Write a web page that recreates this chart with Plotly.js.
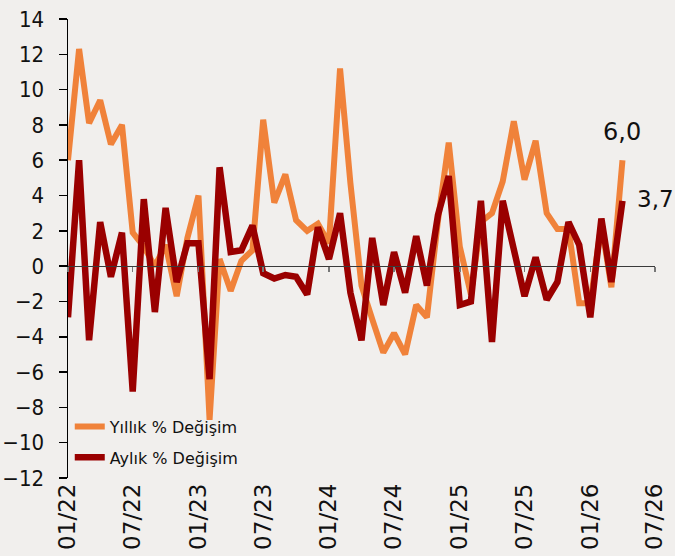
<!DOCTYPE html>
<html>
<head>
<meta charset="utf-8">
<script src="https://cdn.plot.ly/plotly-3.0.1.min.js"></script>
<style>html,body{margin:0;padding:0;background:#f1efed;}</style>
</head>
<body>
<div id="chart" style="width:675px;height:556px;"></div>
<script>
// Monthly series starting 01/2022
const startYear = 2022, startMonth = 1;
const yillik = [6.0, 12.3, 8.1, 9.4, 6.9, 8.0, 1.9, 1.1, 0.0, 1.2, -1.7, 1.6,
  4.0, -8.7, 0.4, -1.4, 0.3, 0.9, 8.3, 3.6, 5.2, 2.6, 2.0, 2.4,
  1.3, 11.2, 4.7, -1.1, -3.0, -4.9, -3.8, -5.0, -2.2, -2.9, 2.6, 7.0,
  1.1, -1.6, 2.5, 3.0, 4.8, 8.2, 4.9, 7.1, 3.0, 2.1, 2.1, -2.1,
  -2.1, 2.4, -1.2, 6.0];
const aylik = [-2.9, 6.0, -4.2, 2.5, -0.6, 1.9, -7.1, 3.8, -2.6, 3.3, -0.9, 1.3,
  1.3, -6.4, 5.6, 0.8, 0.9, 2.3, -0.4, -0.7, -0.5, -0.6, -1.6, 2.2,
  0.4, 3.0, -1.5, -4.2, 1.6, -2.2, 0.8, -1.5, 1.7, -1.1, 2.9, 5.1,
  -2.2, -2.0, 3.7, -4.3, 3.7, 0.9, -1.7, 0.5, -1.9, -0.9, 2.5, 1.2,
  -2.9, 2.7, -0.9, 3.7];
const tickVals = ['2022-01-01','2022-07-01','2023-01-01','2023-07-01','2024-01-01',
  '2024-07-01','2025-01-01','2025-07-01','2026-01-01','2026-07-01'];
const tickText = ['01/22','07/22','01/23','07/23','01/24','07/24','01/25','07/25','01/26','07/26'];
const seriesNames = ['Yıllık % Değişim', 'Aylık % Değişim'];

const dates = yillik.map((_, i) => {
  const m0 = startMonth - 1 + i;
  const y = startYear + Math.floor(m0 / 12);
  const m = (m0 % 12) + 1;
  return y + '-' + String(m).padStart(2, '0') + '-01';
});

const orange = '#f0823a';
const darkred = '#9a0000';
const xRange = ['2022-01-01', '2026-07-01'];
const yMin = -12, yMax = 14;

const traces = [
  {x: dates, y: yillik, type: 'scatter', mode: 'lines', name: seriesNames[0],
   legendgroup: 'a', line: {color: orange, width: 6}, xaxis: 'x', yaxis: 'y'},
  {x: dates, y: aylik, type: 'scatter', mode: 'lines', name: seriesNames[1],
   legendgroup: 'b', line: {color: darkred, width: 6.5}, xaxis: 'x2', yaxis: 'y'}
];

const fmt = v => v.toFixed(1).replace('.', ',');
const last = dates.length - 1;

const layout = {
  width: 675, height: 556,
  paper_bgcolor: '#f1efed', plot_bgcolor: '#f1efed',
  margin: {l: 68, r: 20, t: 19, b: 78},
  showlegend: true,
  legend: {x: 0.003, y: 0.149, xanchor: 'left', yanchor: 'top',
    bgcolor: 'rgba(0,0,0,0)', itemwidth: 30, tracegroupgap: 7,
    font: {family: 'DejaVu Sans', size: 16, color: '#111'}},
  xaxis: {type: 'date', range: xRange, tickvals: tickVals, ticktext: tickText,
    tickangle: -90, showgrid: false, zeroline: false, showline: false, ticks: '',
    tickfont: {family: 'DejaVu Sans', size: 23, color: '#111'}},
  xaxis2: {type: 'date', range: xRange, overlaying: 'x', anchor: 'free',
    position: (0 - yMin) / (yMax - yMin), tickvals: tickVals, showticklabels: false,
    showgrid: false, zeroline: false, showline: true, linecolor: '#3a3a3a', linewidth: 1.2,
    ticks: 'outside', ticklen: 5, tickcolor: '#777', tickwidth: 1.5},
  yaxis: {range: [yMin, yMax], dtick: 2, showgrid: false, zeroline: false,
    showline: true, linecolor: '#000', linewidth: 1.5, ticks: 'outside', ticklen: 8,
    tickcolor: '#000', tickwidth: 1.5, ticklabelstandoff: 10,
    tickfont: {family: 'DejaVu Sans Condensed', size: 22, color: '#111'}},
  annotations: [
    {x: dates[last], y: yillik[last], xref: 'x', yref: 'y', text: fmt(yillik[last]),
     showarrow: false, yshift: 28, font: {family: 'DejaVu Sans', size: 24, color: '#111'}},
    {x: dates[last], y: aylik[last], xref: 'x', yref: 'y', text: fmt(aylik[last]),
     showarrow: false, xshift: 33, yshift: 2, font: {family: 'DejaVu Sans', size: 23, color: '#111'}}
  ]
};

Plotly.newPlot('chart', traces, layout, {displayModeBar: false, staticPlot: true});
</script>
</body>
</html>
